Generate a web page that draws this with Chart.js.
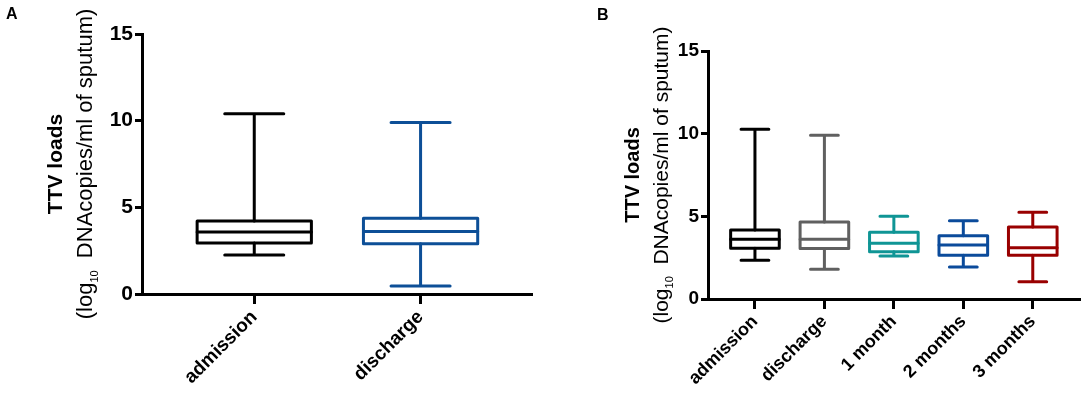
<!DOCTYPE html>
<html lang="en">
<head>
  <meta charset="UTF-8" />
  <title>TTV loads</title>
  <script src="https://cdn.jsdelivr.net/npm/chart.js"></script>
  <style>
    body { margin: 0; background: #fff; width: 1084px; height: 402px; position: relative; overflow: hidden; }
    .panel { position: absolute; top: 0; height: 402px; }
    #panelA { left: 0; width: 560px; }
    #panelB { left: 560px; width: 524px; }
    .tag { position: absolute; font: bold 16px 'Liberation Sans', Arial, sans-serif; color: #000; }
  </style>
</head>
<body>
  <div class="panel" id="panelA"><canvas id="chartA"></canvas></div>
  <div class="panel" id="panelB"><canvas id="chartB"></canvas></div>
  <div class="tag" style="left:6px; top:5px;">A</div>
  <div class="tag" style="left:597px; top:6px;">B</div>

  <script>
    // panel A
    const labelsA = ['admission', 'discharge'];
    const minA = [2.25, 0.46];
    const q1A = [2.94, 2.9];
    const medA = [3.57, 3.6];
    const q3A = [4.21, 4.37];
    const maxA = [10.4, 9.9];
    const colorsA = ['#000000', '#0d4f97'];

    // panel B
    const labelsB = ['admission', 'discharge', '1 month', '2 months', '3 months'];
    const minB = [2.34, 1.8, 2.6, 1.94, 1.05];
    const q1B = [3.07, 3.05, 2.86, 2.64, 2.64];
    const medB = [3.61, 3.61, 3.37, 3.27, 3.1];
    const q3B = [4.17, 4.66, 4.03, 3.83, 4.36];
    const maxB = [10.27, 9.9, 5.0, 4.74, 5.24];
    const colorsB = ['#000000', '#606060', '#0f9595', '#0b4b9b', '#990000'];

    const yTicks = [0, 5, 10, 15];

    // draws boxes, whiskers and caps through the chart's scales
    const boxPlugin = {
      id: 'boxes',
      afterDatasetsDraw(chart, args, o) {
        const { ctx, scales: { x, y } } = chart;
        ctx.save();
        ctx.lineWidth = o.lineWidth;
        ctx.lineCap = 'round';
        ctx.lineJoin = 'round';
        o.labels.forEach((_, i) => {
          const cx = x.getPixelForValue(i + 1);
          const bw = x.getPixelForValue(i + 1 + o.boxWidth / 2) - cx;
          const cw = x.getPixelForValue(i + 1 + o.capWidth / 2) - cx;
          const pMin = y.getPixelForValue(o.min[i]);
          const pQ1 = y.getPixelForValue(o.q1[i]);
          const pMed = y.getPixelForValue(o.med[i]);
          const pQ3 = y.getPixelForValue(o.q3[i]);
          const pMax = y.getPixelForValue(o.max[i]);
          ctx.strokeStyle = o.colors[i];
          ctx.beginPath();
          ctx.moveTo(cx, pMax); ctx.lineTo(cx, pQ3);
          ctx.moveTo(cx, pQ1); ctx.lineTo(cx, pMin);
          ctx.moveTo(cx - cw, pMax); ctx.lineTo(cx + cw, pMax);
          ctx.moveTo(cx - cw, pMin); ctx.lineTo(cx + cw, pMin);
          ctx.moveTo(cx - bw, pMed); ctx.lineTo(cx + bw, pMed);
          ctx.stroke();
          ctx.strokeRect(cx - bw, pQ3, bw * 2, pQ1 - pQ3);
        });
        ctx.restore();
      }
    };

    // y axis title with subscript 10
    const titlePlugin = {
      id: 'ytitle',
      afterDraw(chart, args, o) {
        const { ctx } = chart;
        const cy = o.cy;
        ctx.save();
        ctx.fillStyle = '#000';
        ctx.textBaseline = 'middle';
        ctx.translate(o.x1, cy);
        ctx.rotate(-Math.PI / 2);
        ctx.font = 'bold ' + o.size + 'px "Liberation Sans", Arial, sans-serif';
        ctx.textAlign = 'center';
        ctx.fillText('TTV loads', 0, 0);
        ctx.restore();

        ctx.save();
        ctx.fillStyle = '#000';
        ctx.textBaseline = 'middle';
        const big = o.size2 + 'px "Liberation Sans", Arial, sans-serif';
        const small = Math.round(o.size2 * 0.5) + 'px "Liberation Sans", Arial, sans-serif';
        const parts = [['(log', big, 0], ['10', small, o.size2 * 0.4], ['  DNAcopies/ml of sputum)', big, 0]];
        let total = 0;
        parts.forEach(p => { ctx.font = p[1]; total += ctx.measureText(p[0]).width; });
        ctx.translate(o.x2, cy);
        ctx.rotate(-Math.PI / 2);
        ctx.textAlign = 'left';
        let pos = -total / 2;
        parts.forEach(p => {
          ctx.font = p[1];
          ctx.fillText(p[0], pos, p[2]);
          pos += ctx.measureText(p[0]).width;
        });
        ctx.restore();
      }
    };

    function makeChart(id, labels, mins, q1s, meds, q3s, maxs, colors, cfg) {
      return new Chart(document.getElementById(id), {
        type: 'scatter',
        data: {
          datasets: [{
            data: meds.map((v, i) => ({ x: i + 1, y: v })),
            pointRadius: 0,
            showLine: false
          }]
        },
        plugins: [boxPlugin, titlePlugin],
        options: {
          responsive: true,
          maintainAspectRatio: false,
          animation: false,
          events: [],
          layout: { padding: cfg.padding },
          plugins: {
            legend: { display: false },
            tooltip: { enabled: false },
            boxes: {
              labels, min: mins, q1: q1s, med: meds, q3: q3s, max: maxs, colors,
              lineWidth: 3, boxWidth: cfg.boxWidth, capWidth: cfg.capWidth
            },
            ytitle: { x1: cfg.t1, x2: cfg.t2, cy: cfg.tcy, size: cfg.tsize, size2: cfg.tsize2 }
          },
          scales: {
            x: {
              type: 'linear',
              min: cfg.xmin,
              max: cfg.xmax,
              afterBuildTicks: s => { s.ticks = labels.map((_, i) => ({ value: i + 1 })); },
              afterFit: s => { s.height = cfg.xh; },
              ticks: {
                autoSkip: false,
                minRotation: 45,
                maxRotation: 45,
                padding: 2,
                color: '#000',
                font: { family: '"Liberation Sans", Arial, sans-serif', size: cfg.xfsize, weight: 'bold' },
                callback: v => labels[v - 1]
              },
              grid: { drawOnChartArea: false, drawTicks: true, tickLength: 10, tickWidth: 3, color: '#000' },
              border: { display: true, width: 3, color: '#000' }
            },
            y: {
              min: 0,
              max: 15,
              afterBuildTicks: s => { s.ticks = yTicks.map(v => ({ value: v })); },
              afterFit: s => { s.width = cfg.yw; },
              ticks: {
                padding: 2,
                color: '#000',
                font: { family: '"Liberation Sans", Arial, sans-serif', size: cfg.yfsize, weight: 'bold' }
              },
              grid: { drawOnChartArea: false, drawTicks: true, tickLength: 7, tickWidth: 3, color: '#000' },
              border: { display: true, width: 3, color: '#000' }
            }
          }
        }
      });
    }

    makeChart('chartA', labelsA, minA, q1A, medA, q3A, maxA, colorsA, {
      padding: { top: 34, right: 28, bottom: 0, left: 0 },
      xmin: 0.325, xmax: 2.67, xh: 108, yw: 142,
      boxWidth: 0.687, capWidth: 0.355, xfsize: 19, yfsize: 21,
      t1: 56, t2: 86, tcy: 164, tsize: 21, tsize2: 22
    });

    makeChart('chartB', labelsB, minB, q1B, medB, q3B, maxB, colorsB, {
      padding: { top: 51, right: 4, bottom: 0, left: 0 },
      xmin: 0.324, xmax: 5.68, xh: 103, yw: 148,
      boxWidth: 0.70, capWidth: 0.40, xfsize: 18, yfsize: 19,
      t1: 73, t2: 102, tcy: 175, tsize: 20, tsize2: 21
    });
  </script>
</body>
</html>
